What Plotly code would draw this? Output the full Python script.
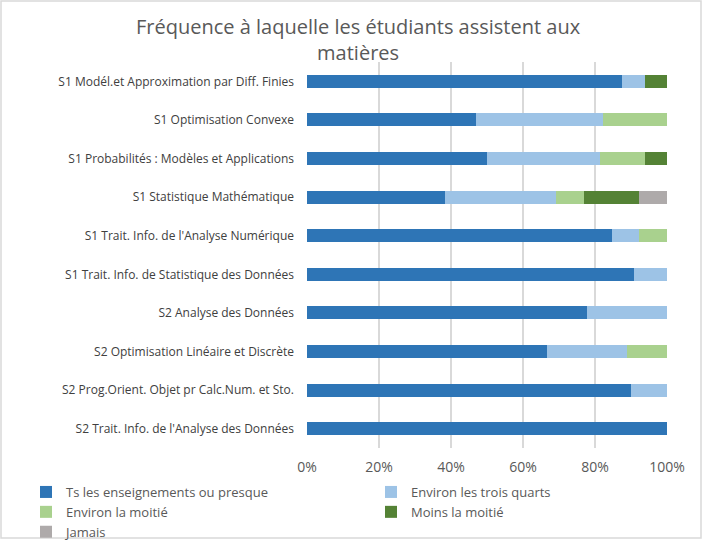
import plotly.graph_objects as go

categories = [
    "S1 Modél.et Approximation par Diff. Finies",
    "S1 Optimisation Convexe",
    "S1 Probabilités : Modèles et Applications",
    "S1 Statistique Mathématique",
    "S1 Trait. Info. de l'Analyse Numérique",
    "S1 Trait. Info. de Statistique des Données",
    "S2 Analyse des Données",
    "S2 Optimisation Linéaire et Discrète",
    "S2 Prog.Orient. Objet pr Calc.Num. et Sto.",
    "S2 Trait. Info. de l'Analyse des Données",
]
series_names = [
    "Ts les enseignements ou presque",
    "Environ les trois quarts",
    "Environ la moitié",
    "Moins la moitié",
    "Jamais",
]
ts_presque = [0.875, 0.4706, 0.50, 0.3846, 0.8462, 0.9091, 0.7778, 0.6667, 0.90, 1.0]
trois_quarts = [0.0625, 0.3529, 0.3125, 0.3077, 0.0769, 0.0909, 0.2222, 0.2222, 0.10, 0.0]
moitie = [0.0, 0.1765, 0.125, 0.0769, 0.0769, 0.0, 0.0, 0.1111, 0.0, 0.0]
moins_moitie = [0.0625, 0.0, 0.0625, 0.1538, 0.0, 0.0, 0.0, 0.0, 0.0, 0.0]
jamais = [0.0, 0.0, 0.0, 0.0769, 0.0, 0.0, 0.0, 0.0, 0.0, 0.0]
x_ticks = [0, 0.2, 0.4, 0.6, 0.8, 1.0]
x_tick_labels = ["0%", "20%", "40%", "60%", "80%", "100%"]
title_text = "Fréquence à laquelle les étudiants assistent aux<br>matières"

colors = ["#2E75B6", "#9DC3E6", "#A9D18E", "#548235", "#AEAAAA"]
values = [ts_presque, trois_quarts, moitie, moins_moitie, jamais]
legend_ids = ["legend", "legend2", "legend", "legend2", "legend"]

FONT = "Open Sans"
GREY = "#595959"

W, H = 703, 540
L, R, T, B = 307, 36, 62, 92
pw = W - L - R
ph = H - T - B

def px_x(x):
    return (x - L) / pw

def px_y(y):
    return (H - B - y) / ph

fig = go.Figure()
for name, vals, col, lg in zip(series_names, values, colors, legend_ids):
    fig.add_trace(go.Bar(
        y=categories, x=vals, name=name, orientation="h",
        marker=dict(color=col, line=dict(width=0)),
        legend=lg,
    ))

legend_common = dict(
    orientation="v", xanchor="left", yanchor="top",
    font=dict(size=13, color=GREY), traceorder="normal",
    itemwidth=30, tracegroupgap=0, bgcolor="rgba(0,0,0,0)",
)

fig.update_layout(
    width=W, height=H,
    barmode="stack", bargap=0.66,
    margin=dict(l=L, r=R, t=T, b=B, autoexpand=False),
    paper_bgcolor="white", plot_bgcolor="white",
    font=dict(family=FONT, color=GREY, size=12),
    xaxis=dict(
        range=[0, 1.0], tickvals=x_ticks, ticktext=x_tick_labels,
        showgrid=True, gridcolor="#D9D9D9", gridwidth=1.5,
        zeroline=False, showline=False, ticks="", automargin=False,
        ticklabelstandoff=9,
        tickfont=dict(size=14, color=GREY),
    ),
    yaxis=dict(
        autorange="reversed", showgrid=False, ticks="", showline=False,
        automargin=False, ticklabelstandoff=12,
        tickfont=dict(size=12, color="#404040"),
    ),
    legend=dict(x=px_x(26), y=px_y(477), **legend_common),
    legend2=dict(x=px_x(371), y=px_y(477), **legend_common),
    showlegend=True,
)

fig.add_annotation(
    text=title_text, xref="paper", yref="paper",
    x=px_x(358), y=px_y(11), xanchor="center", yanchor="top",
    showarrow=False, font=dict(size=20, color=GREY, family=FONT),
)

# light grey chart border
fig.add_shape(
    type="rect", xref="paper", yref="paper",
    x0=px_x(1), x1=px_x(W - 2),
    y0=px_y(H - 2), y1=px_y(1),
    line=dict(color="#D9D9D9", width=1.5), fillcolor="rgba(0,0,0,0)",
    layer="below",
)

fig.write_html(
    "out.html",
    config={"displayModeBar": False},
    post_script="document.body.style.margin='0';document.body.style.overflow='hidden';",
)
